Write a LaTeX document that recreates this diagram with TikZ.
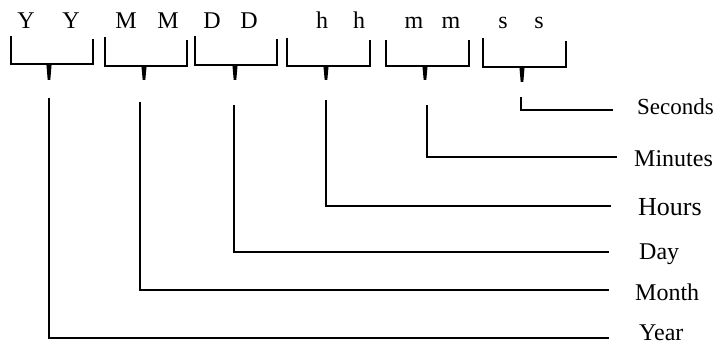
\documentclass[tikz,border=0pt]{standalone}
\usepackage{fontspec}
\setmainfont{Liberation Serif}
\begin{document}
\begin{tikzpicture}[x=1pt,y=-1pt,
  letter/.style={anchor=base,inner sep=0pt,font=\fontsize{24}{28}\selectfont},
  lab/.style={anchor=base west,inner sep=0pt,font=\fontsize{24}{28}\selectfont},
  brk/.style={line width=2pt,line join=miter},
  conn/.style={line width=1.7pt}]
\useasboundingbox (0,0) rectangle (717,347);
% letters
\node[letter] (Y1) at (26,29) {Y};
\node[letter] (Y2) at (71,29) {Y};
\node[letter] (M1) at (126,29) {M};
\node[letter] (M2) at (168,29) {M};
\node[letter] (D1) at (212,29) {D};
\node[letter] (D2) at (249,29) {D};
\node[letter] (h1) at (322,29) {h};
\node[letter] (h2) at (359,29) {h};
\node[letter] (m1) at (414,29) {m};
\node[letter] (m2) at (451,29) {m};
\node[letter] (s1) at (503,29) {s};
\node[letter] (s2) at (539,29) {s};
% brackets: lx rx ly ry by tx ty
\newcommand\mybracket[7]{%
  \draw[brk] (#1,#3) -- (#1,#5) -- (#2,#5) -- (#2,#4);
  \fill (#6-2.6,#5) -- (#6+2.6,#5) -- (#6+1.3,#7) -- (#6-1.3,#7) -- cycle;}
\mybracket{11}{93}{36}{39}{64.5}{49}{80}
\mybracket{105}{187}{37}{40}{66}{144}{80}
\mybracket{195}{277}{36}{39}{65}{235}{80}
\mybracket{287}{370}{38}{40}{66}{326}{80}
\mybracket{386}{469}{40}{40}{66}{425}{80}
\mybracket{483}{566}{38}{41}{67}{522}{82}
% labels
\node[lab,font=\fontsize{23}{28}\selectfont] (sec) at (637,115) {Seconds};
\node[lab] (min) at (634,167) {Minutes};
\node[lab,font=\fontsize{26}{30}\selectfont] (hrs) at (638,216) {Hours};
\node[lab] (day) at (639,260) {Day};
\node[lab] (mon) at (635,300) {Month};
\node[lab] (yr) at (639,340) {Year};
% connector ends
\coordinate (sSec) at (521,97);  \coordinate (eSec) at (613,110);
\coordinate (sMin) at (427,105); \coordinate (eMin) at (617,157);
\coordinate (sHrs) at (326,100); \coordinate (eHrs) at (611,206);
\coordinate (sDay) at (234,105); \coordinate (eDay) at (609,252);
\coordinate (sMon) at (140,102); \coordinate (eMon) at (609,290);
\coordinate (sYr)  at (49,98);   \coordinate (eYr)  at (609,338);
\draw[conn] (sSec) |- (eSec);
\draw[conn] (sMin) |- (eMin);
\draw[conn] (sHrs) |- (eHrs);
\draw[conn] (sDay) |- (eDay);
\draw[conn] (sMon) |- (eMon);
\draw[conn] (sYr) |- (eYr);
\end{tikzpicture}
\end{document}
